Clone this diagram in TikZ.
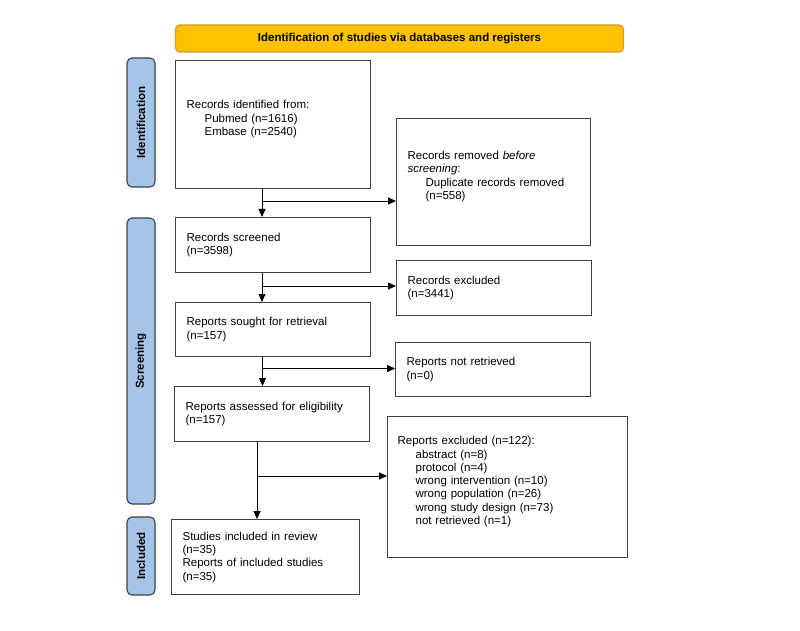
\documentclass[tikz,border=0pt]{standalone}
\usepackage{fontspec}
\setmainfont{Liberation Sans}
\usetikzlibrary{arrows.meta}
\definecolor{hdrfill}{HTML}{FFC000}
\definecolor{hdrline}{HTML}{C9A227}
\definecolor{sidefill}{HTML}{A4C5E8}
\definecolor{boxline}{HTML}{404040}
\tikzset{
  boxnode/.style={draw=boxline, line width=1.2pt, rectangle, anchor=north west,
    align=left, inner xsep=11pt, inner ysep=0pt, font=\fontsize{11.5}{13.3}\selectfont},
  sidebar/.style={draw=boxline, line width=1.1pt, fill=sidefill, rounded corners=5pt,
    minimum width=28pt, inner sep=0pt},
  sidetext/.style={rotate=90, font=\bfseries\fontsize{11.5}{13.3}\selectfont},
  arr/.style={draw=black, line width=0.9pt, -{Triangle[length=8pt,width=7pt]}}
}
\newcommand{\ind}{\hspace*{18pt}}
\begin{document}
\begin{tikzpicture}[x=1pt,y=-1pt]
\useasboundingbox (0,0) rectangle (800,631);
% header
\node[draw=hdrline, line width=1.1pt, fill=hdrfill, rounded corners=4pt,
  minimum width=448pt, minimum height=27pt, inner sep=0pt,
  font=\bfseries\fontsize{11.5}{13.3}\selectfont] (hdr) at (399.5,38.5)
  {Identification of studies via databases and registers};
% side bars
\node[sidebar, minimum height=129pt] (sid) at (141,122.5) {};
\node[sidetext] at (sid) {Identification};
\node[sidebar, minimum height=286pt] (sscr) at (141,361) {};
\node[sidetext] at (sscr) {Screening};
\node[sidebar, minimum height=78pt] (sinc) at (141,556) {};
\node[sidetext] at (sinc) {Included};
% boxes
\node[boxnode, text width=173pt, minimum height=128pt] (b1) at (175,60)
  {Records identified from:\\ \ind Pubmed (n=1616)\\ \ind Embase (n=2540)\\ ~};
\node[boxnode, text width=172pt, minimum height=127pt] (rem) at (396,118)
  {Records removed \textit{before}\\ \textit{screening}:\\ \ind Duplicate records removed\\ \ind(n=558)\\ ~};
\node[boxnode, text width=173pt, minimum height=55pt] (b2) at (175,217)
  {Records screened\\ (n=3598)};
\node[boxnode, text width=173pt, minimum height=55pt] (exc) at (396,260)
  {Records excluded\\ (n=3441)};
\node[boxnode, text width=173pt, minimum height=54pt] (b3) at (175,302)
  {Reports sought for retrieval\\ (n=157)};
\node[boxnode, text width=173pt, minimum height=54pt] (nret) at (395,342)
  {Reports not retrieved\\ (n=0)};
\node[boxnode, text width=173pt, minimum height=55pt] (b4) at (174,386)
  {Reports assessed for eligibility\\ (n=157)};
\node[boxnode, text width=220pt, minimum height=141pt, inner xsep=10pt] (rexc) at (387,416)
  {Reports excluded (n=122):\\ \ind abstract (n=8)\\ \ind protocol (n=4)\\ \ind wrong intervention (n=10)\\
   \ind wrong population (n=26)\\ \ind wrong study design (n=73)\\ \ind not retrieved (n=1)\\ ~};
\node[boxnode, text width=166pt, minimum height=75pt] (b5) at (171,519)
  {Studies included in review\\ (n=35)\\ Reports of included studies\\ (n=35)};
% junction points
\coordinate (j1) at (262,201);
\coordinate (j2) at (262,286);
\coordinate (j3) at (262.5,368.5);
\coordinate (j4) at (257,476);
% connectors
\draw[arr] (b1.south -| j1) -- (b2.north -| j1);
\draw[arr] (j1) -- (j1 -| rem.west);
\draw[arr] (b2.south -| j2) -- (b3.north -| j2);
\draw[arr] (j2) -- (j2 -| exc.west);
\draw[arr] (b3.south -| j3) -- (b4.north -| j3);
\draw[arr] (j3) -- (j3 -| nret.west);
\draw[arr] (b4.south -| j4) -- (b5.north -| j4);
\draw[arr] (j4) -- (j4 -| rexc.west);
\end{tikzpicture}
\end{document}
